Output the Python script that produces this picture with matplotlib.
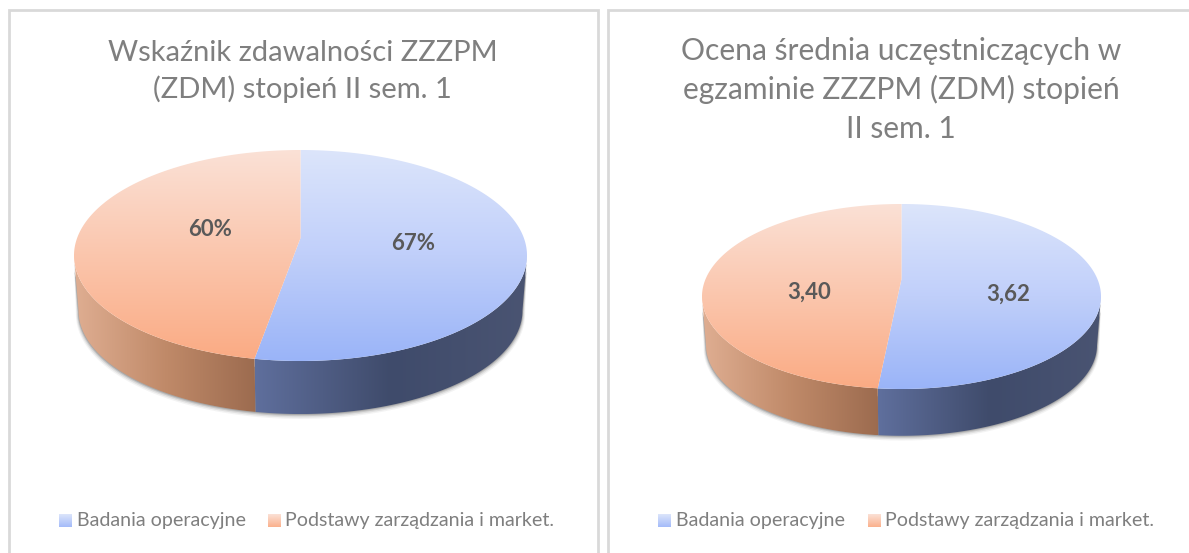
import matplotlib
matplotlib.use("Agg")
import matplotlib.pyplot as plt
import numpy as np
from matplotlib.colors import LinearSegmentedColormap
from matplotlib.patches import Polygon, Rectangle

plt.rcParams['font.family'] = ['Lato', 'DejaVu Sans']

# dane
series_names = ["Badania operacyjne", "Podstawy zarządzania i market."]
left_title = ["Wskaźnik zdawalności ZZZPM", "(ZDM) stopień II sem. 1"]
left_values = [67, 60]
left_labels = ["67%", "60%"]
right_title = ["Ocena średnia uczęstniczących w", "egzaminie ZZZPM (ZDM) stopień", "II sem. 1"]
right_values = [3.62, 3.40]
right_labels = ["3,62", "3,40"]

# kolory (gradienty)
blue_top = LinearSegmentedColormap.from_list("bt", ["#DCE5FB", "#C0CFFA", "#9AB4F8"])
orange_top = LinearSegmentedColormap.from_list("ot", ["#FBE1D6", "#FAC6AD", "#FBAB84"])
blue_side = LinearSegmentedColormap.from_list("bs", ["#5F6F9D", "#3F4B6B", "#4A5472"])
orange_side = LinearSegmentedColormap.from_list("os", ["#DFAE92", "#C08A69", "#9C6B4F"])
legend_blue = LinearSegmentedColormap.from_list("lb", ["#DCE5FB", "#A4BBF9"])
legend_orange = LinearSegmentedColormap.from_list("lo", ["#FBE1D6", "#FBB18D"])
TITLE_COL = "#7F7F7F"
LABEL_COL = "#595959"
FRAME_COL = "#D9D9D9"

W, H = 1189, 553
fig = plt.figure(figsize=(W / 100, H / 100), dpi=100)
ax = fig.add_axes([0, 0, 1, 1])


def rim(deg, cx, apex, a, b, k, scale=1.0, drop=0.0):
    # okrag w perspektywie, tak zeby srodek wypadal w apex
    t = np.radians(deg)
    w = 1 + k * np.cos(t)
    x = cx + scale * a * np.sin(t) / w
    y = apex + drop - scale * b * np.cos(t) / w
    return np.column_stack([x, y])


def gradient(cmap, poly, horizontal=False, zorder=2):
    patch = Polygon(poly, closed=True, fc="none", ec="none", zorder=zorder)
    ax.add_patch(patch)
    x0, x1 = poly[:, 0].min(), poly[:, 0].max()
    y0, y1 = poly[:, 1].min(), poly[:, 1].max()
    g = np.linspace(0, 1, 256)
    data = g[None, :] if horizontal else g[:, None]
    im = ax.imshow(data, cmap=cmap, extent=(x0, x1, y1, y0), aspect="auto",
                   vmin=0, vmax=1, zorder=zorder, interpolation="bilinear")
    im.set_clip_path(patch)


def draw_pie(values, labels, cx, top, apex, bottom, half_w, depth, label_xy):
    up, down = apex - top, bottom - apex
    k = (down - up) / (down + up)
    b = up * (1 + k)
    a = half_w * np.sqrt(1 - k ** 2)
    split = 360 * values[0] / sum(values)
    # kat najszerszego miejsca elipsy, stad zaczyna sie bok
    widest = np.degrees(np.arccos(-k))

    # cien pod bokiem
    th = np.linspace(widest, 360 - widest, 300)
    for off, alpha in [(3.5, 0.06), (2.5, 0.10), (1.5, 0.16), (0.7, 0.22)]:
        shadow = np.vstack([rim(th, cx, apex, a, b, k, 1.0, 8),
                            rim(th[::-1], cx, apex, a, b, k, 0.98 + off / 300, depth + off)])
        ax.add_patch(Polygon(shadow, closed=True, fc="#404040", ec="none", alpha=alpha, zorder=1))

    # boki
    th = np.linspace(widest, split, 200)
    gradient(blue_side, np.vstack([rim(th, cx, apex, a, b, k),
                                   rim(th[::-1], cx, apex, a, b, k, 0.98, depth)]),
             horizontal=True, zorder=2)
    th = np.linspace(split, 360 - widest, 200)
    gradient(orange_side, np.vstack([rim(th, cx, apex, a, b, k),
                                     rim(th[::-1], cx, apex, a, b, k, 0.98, depth)]),
             horizontal=True, zorder=2)

    # gora
    th = np.linspace(0, split, 300)
    gradient(blue_top, np.vstack([[cx, apex], rim(th, cx, apex, a, b, k)]), zorder=3)
    th = np.linspace(split, 360, 300)
    gradient(orange_top, np.vstack([[cx, apex], rim(th, cx, apex, a, b, k)]), zorder=3)

    for lab, (x, y) in zip(labels, label_xy):
        ax.text(x, y, lab, fontsize=16, fontweight="bold", color=LABEL_COL,
                ha="center", va="center", zorder=5)


def swatch(cmap, x, y, size=13):
    ax.imshow(np.linspace(0, 1, 64)[:, None], cmap=cmap, extent=(x, x + size, y + size, y),
              aspect="auto", vmin=0, vmax=1, zorder=3)


def draw_legend(x_a, x_b, y=520):
    swatch(legend_blue, x_a, y - 6)
    ax.text(x_a + 18, y + 0.5, series_names[0], fontsize=14.1, color=TITLE_COL, va="center", ha="left")
    swatch(legend_orange, x_b, y - 6)
    ax.text(x_b + 17, y + 0.5, series_names[1], fontsize=14.1, color=TITLE_COL, va="center", ha="left")


# ramki
ax.add_patch(Rectangle((8.5, 9.5), 589.5, 560, fc="white", ec=FRAME_COL, lw=2, zorder=0))
ax.add_patch(Rectangle((607.5, 9.5), 600, 560, fc="white", ec=FRAME_COL, lw=2, zorder=0))

draw_pie(left_values, left_labels, 300.5, 150, 238, 361, 226.5, 55.5,
         [(413, 243), (210, 229)])
draw_pie(right_values, right_labels, 901.5, 204, 279, 389, 199.5, 49,
         [(1008, 294), (809, 292)])

for line, y in zip(left_title, [53, 89]):
    ax.text(302.5, y, line, fontsize=21, color=TITLE_COL, ha="center", va="center")
for line, y in zip(right_title, [51, 89, 129]):
    ax.text(901, y, line, fontsize=21.6, color=TITLE_COL, ha="center", va="center")

draw_legend(59, 268)
draw_legend(658, 868)

ax.set_xlim(0, W)
ax.set_ylim(H, 0)
ax.axis("off")
fig.savefig("out.png", dpi=100)
